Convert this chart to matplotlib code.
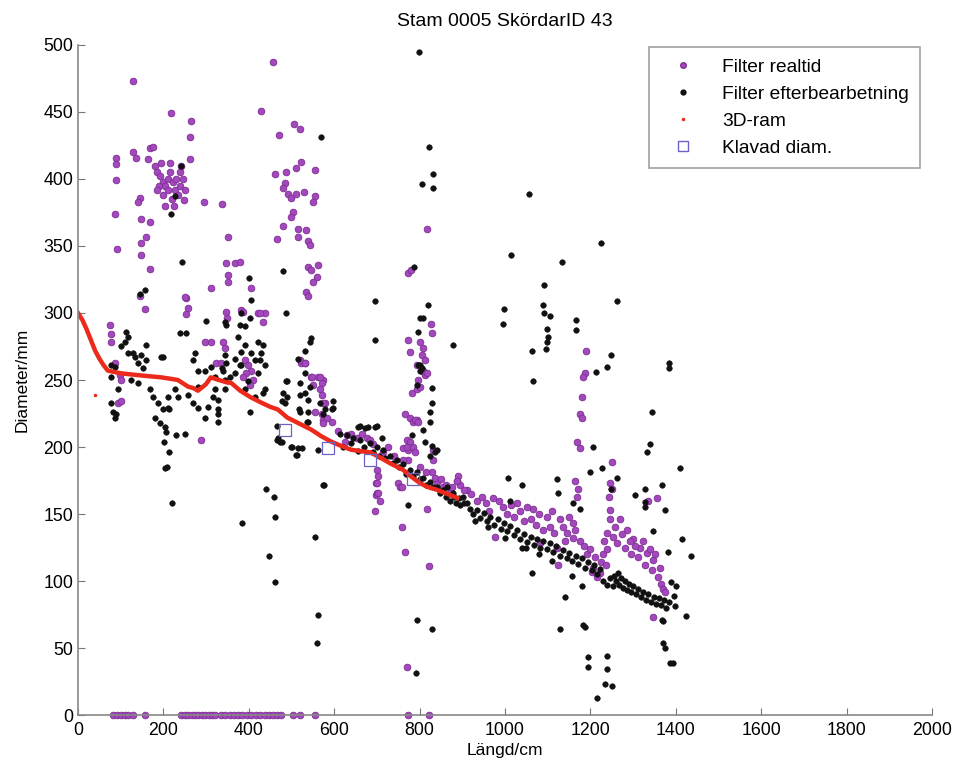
import matplotlib.pyplot as plt
from matplotlib.lines import Line2D

plt.rcParams['font.family'] = ['Liberation Sans', 'DejaVu Sans']

# Filter realtid (purple) as (length cm, diameter mm)
PURPLE_UPPER = [(129, 473), (457, 487), (217, 449), (265, 443), (262, 431), (429, 451),
                (506, 441), (519, 437), (471, 433), (89, 416), (88, 411), (129, 420),
                (136, 416), (169, 423), (176, 424), (164, 415), (89, 399), (87, 374),
                (92, 348), (145, 386), (141, 383), (148, 370), (169, 368), (159, 357),
                (148, 352), (148, 343), (169, 333), (146, 313), (157, 303), (262, 415),
                (295, 383), (337, 381), (351, 357), (347, 337), (368, 337), (379, 338),
                (351, 328), (351, 323), (311, 319), (405, 319), (253, 311), (253, 299),
                (347, 301), (349, 296), (382, 302), (422, 300), (438, 300), (461, 404),
                (487, 405), (485, 397), (510, 408), (522, 413), (555, 407), (480, 393),
                (492, 389), (499, 386), (511, 389), (529, 390), (555, 387), (550, 383),
                (504, 375), (499, 372), (480, 365), (466, 355), (515, 363), (534, 362),
                (515, 357), (539, 354), (543, 351), (539, 334), (562, 336), (546, 332),
                (560, 327), (550, 323), (534, 316), (539, 313), (75, 291), (77, 284),
                (77, 278), (297, 278), (311, 278), (339, 278), (344, 274), (522, 263),
                (531, 263), (546, 252), (562, 252)]
PURPLE_CLUSTER = [(180, 410), (186, 405), (192, 402), (198, 398), (204, 395), (210, 400),
                  (216, 405), (222, 398), (228, 392), (234, 388), (240, 395), (246, 400),
                  (190, 395), (200, 388), (210, 392), (220, 385), (230, 400), (195, 412),
                  (215, 412), (238, 405), (250, 392), (203, 380), (225, 380), (248, 384),
                  (185, 392), (242, 410)]
PURPLE_LOW = [(391, 265), (398, 261), (405, 257), (393, 255), (386, 252), (410, 250),
              (403, 246), (323, 263), (335, 263), (251, 312), (258, 304), (386, 301),
              (426, 300), (433, 293), (87, 263), (98, 254), (101, 250), (94, 233),
              (101, 234), (288, 205), (578, 233), (574, 220), (567, 243), (574, 250),
              (698, 173), (698, 164), (696, 152), (520, 265), (532, 263), (548, 252),
              (567, 252), (571, 248), (550, 246), (571, 239), (574, 233), (555, 226),
              (571, 225), (583, 222), (595, 219), (574, 218)]
PURPLE_MID = [(794, 261), (808, 257), (813, 254), (796, 250), (782, 240), (794, 243),
              (766, 225), (778, 222), (794, 220), (785, 219), (770, 205), (778, 204),
              (761, 199), (773, 198), (831, 190), (831, 198), (700, 183), (703, 178),
              (700, 173), (700, 166), (707, 160), (749, 173), (754, 170), (630, 209),
              (653, 207), (665, 210), (677, 207), (684, 205), (841, 174), (855, 170),
              (871, 166), (888, 175), (895, 172), (911, 168), (817, 363), (773, 330),
              (780, 332), (827, 292), (829, 285), (778, 271), (801, 278), (808, 274),
              (806, 269), (813, 265), (808, 257), (817, 255), (773, 280), (801, 245),
              (789, 220), (796, 219), (770, 200), (785, 200), (789, 196), (773, 190),
              (829, 181), (890, 178), (759, 170), (703, 166), (817, 154), (759, 140),
              (766, 122), (822, 111), (770, 36), (610, 212), (625, 204), (640, 210),
              (690, 202), (715, 196), (725, 200), (740, 193), (760, 190), (800, 185),
              (815, 181), (835, 177), (850, 176), (862, 172), (875, 170)]
PURPLE_RIGHT = [(1190, 272), (1187, 255), (1183, 252), (1180, 237), (1176, 225), (1180, 222),
                (1169, 204), (1176, 199), (1251, 189), (1246, 173), (1251, 169), (1244, 163),
                (1246, 153), (1164, 175), (1171, 169), (1169, 163), (1347, 73), (1335, 160),
                (1356, 162), (972, 162), (1028, 158), (1066, 154), (1098, 148), (1105, 140),
                (1129, 146), (1159, 143), (1145, 136), (1159, 132), (1082, 128), (1122, 125),
                (1206, 110), (1222, 106), (1215, 103), (1204, 107), (1239, 136), (1246, 146),
                (1253, 133), (1269, 146), (1286, 138), (1300, 131), (1316, 125), (1333, 121),
                (1347, 116), (1363, 110), (888, 175), (977, 133), (1124, 112), (905, 168),
                (920, 165), (935, 160), (945, 163), (955, 158), (962, 152), (985, 160),
                (995, 155), (1005, 150), (1015, 157), (1022, 148), (1035, 152), (1045, 145),
                (1052, 155), (1060, 146), (1072, 142), (1080, 150), (1090, 138), (1110, 152),
                (1115, 136), (1135, 140), (1140, 130), (1150, 148), (1165, 138), (1175, 130),
                (1185, 126), (1192, 120), (1198, 124), (1210, 118), (1225, 114), (1230, 120),
                (1258, 140), (1262, 128), (1275, 135), (1280, 125), (1292, 130), (1296, 120),
                (1305, 126), (1312, 118), (1322, 130), (1328, 112), (1340, 124), (1344, 108),
                (1352, 120), (1358, 103), (1366, 98), (1370, 94), (1375, 92), (1236, 112),
                (1240, 124), (1232, 130)]
PURPLE_ZERO_X = [82, 92, 100, 110, 118, 129, 157, 241, 250, 258, 266, 274, 282, 290, 298,
                 306, 314, 321, 335, 345, 355, 365, 375, 385, 395, 405, 417, 427, 437, 447,
                 457, 467, 475, 504, 520, 555, 773, 822]

# Filter efterbearbetning (black)
BLACK_EARLY = [(569, 431), (241, 410), (227, 387), (218, 374), (243, 338), (480, 331),
               (487, 300), (696, 309), (696, 280), (400, 326), (405, 310), (300, 294),
               (347, 291), (379, 291), (391, 290), (239, 285), (253, 285), (157, 317),
               (145, 314), (274, 270), (199, 267), (546, 281), (543, 278), (532, 272),
               (515, 266), (532, 255), (112, 286), (110, 278), (101, 275), (117, 270),
               (133, 267), (148, 269), (159, 276), (159, 265), (141, 263), (152, 259),
               (77, 261), (433, 276), (429, 270), (426, 265), (438, 261), (375, 282),
               (391, 276), (382, 271), (368, 266), (379, 261), (344, 269), (347, 263),
               (337, 259), (382, 300), (403, 296), (344, 293)]
BLACK_LOW = [(82, 226), (87, 222), (180, 222), (192, 218), (204, 215), (206, 211), (201, 204),
             (213, 196), (204, 184), (208, 185), (220, 158), (230, 209), (250, 210),
             (213, 228), (328, 219), (384, 143), (440, 169), (459, 163), (461, 148),
             (447, 119), (461, 99), (555, 133), (562, 75), (560, 54), (576, 172), (403, 226),
             (433, 240), (487, 249), (520, 248), (543, 245), (520, 239), (539, 235),
             (567, 233), (597, 234), (539, 226), (578, 228), (597, 229), (539, 219),
             (520, 226), (468, 207), (473, 204), (499, 200), (515, 199), (511, 194),
             (562, 198), (656, 215), (672, 214), (696, 215)]
BLACK_MIDDLE = [(87, 260), (77, 252), (94, 243), (77, 233), (89, 225), (124, 250), (141, 248),
                (169, 243), (176, 237), (187, 233), (199, 228), (211, 237), (227, 243),
                (234, 237), (258, 239), (269, 233), (281, 229), (304, 230), (328, 235),
                (328, 228), (211, 229), (269, 265), (281, 257), (297, 257), (311, 260),
                (321, 252), (340, 257), (344, 250), (356, 252), (368, 255), (405, 270),
                (415, 265), (382, 261), (422, 255), (398, 249), (391, 243), (415, 237),
                (438, 243), (422, 278), (344, 243), (316, 237), (321, 243), (281, 245),
                (297, 222), (328, 225), (194, 267), (129, 270), (117, 282), (489, 249),
                (532, 240), (480, 240), (489, 237), (478, 234), (485, 233), (518, 228),
                (536, 219), (574, 225), (595, 228), (466, 216), (466, 205), (478, 204),
                (501, 200), (513, 194), (525, 199), (574, 172), (660, 216), (679, 215),
                (700, 216), (712, 207), (796, 261), (801, 257), (794, 246), (829, 244),
                (829, 233), (824, 226), (824, 219), (808, 213), (813, 204), (829, 201),
                (836, 196), (824, 193), (782, 209)]
BLACK_UPPER = [(799, 495), (822, 424), (832, 404), (806, 396), (832, 393), (1056, 389),
               (1014, 343), (1134, 338), (1225, 352), (1091, 321), (787, 334), (820, 306),
               (801, 296), (808, 296), (796, 286), (878, 276), (998, 303), (995, 292),
               (1089, 306), (1091, 300), (1105, 298), (1098, 288), (1101, 282), (1098, 278),
               (1096, 273), (1063, 272), (1166, 295), (1166, 287), (1262, 309), (1248, 269),
               (1239, 260), (1213, 256), (801, 261), (806, 259), (1384, 263), (1384, 259)]
BLACK_RIGHT = [(1066, 249), (1344, 226), (1340, 202), (1333, 196), (1206, 200), (1199, 181),
               (1227, 184), (1262, 177), (1007, 177), (1040, 172), (1122, 176), (1124, 166),
               (1159, 158), (1176, 154), (1304, 164), (1328, 159), (1328, 155), (1368, 172),
               (1375, 153), (1347, 137), (841, 198), (773, 157), (1063, 106), (1140, 88),
               (1129, 64), (1180, 96), (1183, 67), (1187, 66), (1194, 43), (1194, 36),
               (1215, 13), (1239, 44), (1239, 34), (1234, 23), (1251, 22), (794, 71),
               (829, 64), (792, 31), (1157, 104), (1253, 96), (1368, 71), (1370, 54),
               (1375, 50), (1386, 39), (1248, 169), (1328, 169), (1012, 160), (1040, 125),
               (1410, 184), (1415, 131), (1382, 122), (1436, 119), (1389, 99), (1401, 96),
               (1396, 89), (1398, 81), (1424, 74), (1370, 70), (1393, 39)]
BLACK_BAND = [(614, 210), (630, 209), (644, 207), (660, 205), (684, 203), (700, 200),
              (714, 198), (731, 193), (747, 190), (761, 187), (778, 183), (794, 181),
              (808, 177), (824, 174), (841, 170), (855, 168), (878, 166), (902, 163),
              (620, 200), (640, 203), (655, 197), (670, 200), (690, 196), (705, 193),
              (720, 192), (738, 188), (752, 185), (768, 180), (785, 178), (800, 176),
              (815, 172), (832, 170), (848, 166), (862, 163), (872, 160), (885, 158),
              (895, 157), (910, 158), (918, 154), (925, 150), (935, 153), (942, 147),
              (950, 151), (958, 145), (966, 148), (975, 142), (983, 146), (990, 139),
              (998, 143), (1005, 137), (1012, 141), (1020, 134), (1028, 138), (1035, 131),
              (1045, 135), (1052, 129), (1060, 133), (1068, 127), (1075, 131), (1083, 125),
              (1090, 130), (1098, 124), (1105, 128), (1112, 122), (1120, 126), (1128, 119),
              (1136, 123), (1144, 117), (1150, 121), (1158, 115), (1166, 119), (1172, 113),
              (1180, 117), (1188, 110), (1195, 114), (1203, 108), (1208, 112), (1216, 105),
              (1222, 109), (1230, 100), (1240, 97), (1245, 102), (1255, 104), (1260, 100),
              (1265, 106), (1268, 97), (1272, 102), (1276, 95), (1280, 100), (1285, 93),
              (1290, 98), (1294, 92), (1300, 96), (1306, 90), (1312, 94), (1318, 88),
              (1324, 92), (1330, 86), (1336, 90), (1342, 84), (1348, 88), (1354, 83),
              (1360, 87), (1366, 82), (1372, 86), (1378, 80), (1384, 84), (930, 145),
              (960, 140), (1000, 132), (1050, 125), (1080, 120), (1110, 115), (865, 170),
              (880, 163), (893, 162), (905, 158)]

# 3D-ram (red)
RAM_X = [0, 10, 20, 30, 40, 50, 60, 70, 85, 100, 130, 160, 194, 215, 234, 258, 270, 281,
         300, 311, 330, 351, 358, 380, 405, 430, 450, 468, 490, 515, 546, 570, 593, 615,
         639, 660, 684, 703, 730, 761, 780, 801, 820, 841, 865, 888]
RAM_Y = [300, 295, 288, 280, 272, 266, 261, 257, 256, 255, 254, 253, 252, 251, 250, 245,
         244, 242, 247, 252, 250, 248, 248, 242, 237, 233, 230, 228, 222, 218, 213, 208,
         204, 201, 198, 197, 196, 193, 188, 183, 178, 173, 170, 168, 165, 162]
RAM_OUTLIER = (40, 239)

# Klavad diam. (squares)
KLAV_X = [485, 585, 684, 785]
KLAV_Y = [213, 199, 190, 176]

PURPLE = '#a448bd'
PURPLE_EDGE = '#7d2e93'
BLACK = '#111111'
RED = '#ec2a1c'
SQUARE = '#6b63c4'


def unzip(*groups):
    xs, ys = [], []
    for g in groups:
        for x, y in g:
            xs.append(x)
            ys.append(y)
    return xs, ys


def main():
    fig = plt.figure(figsize=(9.58, 7.69), dpi=100)
    ax = fig.add_axes([0.0814, 0.0702, 0.8915, 0.8713])

    # purple points
    px, py = unzip(PURPLE_UPPER, PURPLE_CLUSTER, PURPLE_LOW, PURPLE_MID, PURPLE_RIGHT)
    px += PURPLE_ZERO_X
    py += [0] * len(PURPLE_ZERO_X)
    ax.plot(px, py, 'o', ms=4.8, color=PURPLE, mec=PURPLE_EDGE, mew=0.6, clip_on=False)

    # black points
    bx, by = unzip(BLACK_EARLY, BLACK_LOW, BLACK_MIDDLE, BLACK_UPPER, BLACK_RIGHT, BLACK_BAND)
    ax.plot(bx, by, 'o', ms=4.0, color=BLACK, mec=BLACK, mew=0.4)

    # 3D-ram line
    ax.plot(RAM_X, RAM_Y, '-', color=RED, lw=3.2)
    ax.plot([RAM_OUTLIER[0]], [RAM_OUTLIER[1]], '.', color=RED, ms=3)

    # measured diameters
    ax.plot(KLAV_X, KLAV_Y, 's', ms=8, mfc='none', mec=SQUARE, mew=0.9)

    ax.set_xlim(0, 2000)
    ax.set_ylim(0, 500)
    ax.set_xticks(range(0, 2001, 200))
    ax.set_yticks(range(0, 501, 50))
    ax.tick_params(direction='in', length=5, colors='#777777', labelcolor='black',
                   labelsize=12.8)
    ax.tick_params(axis='x', pad=5)
    for side in ['top', 'right']:
        ax.spines[side].set_visible(False)
    for side in ['left', 'bottom']:
        ax.spines[side].set_color('#888888')
        ax.spines[side].set_linewidth(1.2)

    ax.set_title('Stam 0005 SkördarID 43', fontsize=14, pad=14)
    ax.set_xlabel('Längd/cm', fontsize=12.5, labelpad=3)
    ax.set_ylabel('Diameter/mm', fontsize=12.5, labelpad=10)

    # legend with marker-only handles
    handles = [
        Line2D([], [], ls='none', marker='o', ms=4, color=PURPLE, mec=PURPLE_EDGE),
        Line2D([], [], ls='none', marker='o', ms=3.5, color=BLACK),
        Line2D([], [], ls='none', marker='.', ms=3, color=RED),
        Line2D([], [], ls='none', marker='s', ms=7, mfc='none', mec=SQUARE),
    ]
    labels = ['Filter realtid', 'Filter efterbearbetning', '3D-ram', 'Klavad diam.']
    leg = ax.legend(handles, labels, loc='upper right', bbox_to_anchor=(0.986, 0.997),
                    fontsize=13.8, frameon=True, fancybox=False, handlelength=2.4,
                    handletextpad=0.8, borderpad=0.6, labelspacing=0.5, borderaxespad=0)
    leg.get_frame().set_edgecolor('#888888')
    leg.get_frame().set_linewidth(1.2)

    fig.savefig('out.png', dpi=100)
    plt.close(fig)


main()
